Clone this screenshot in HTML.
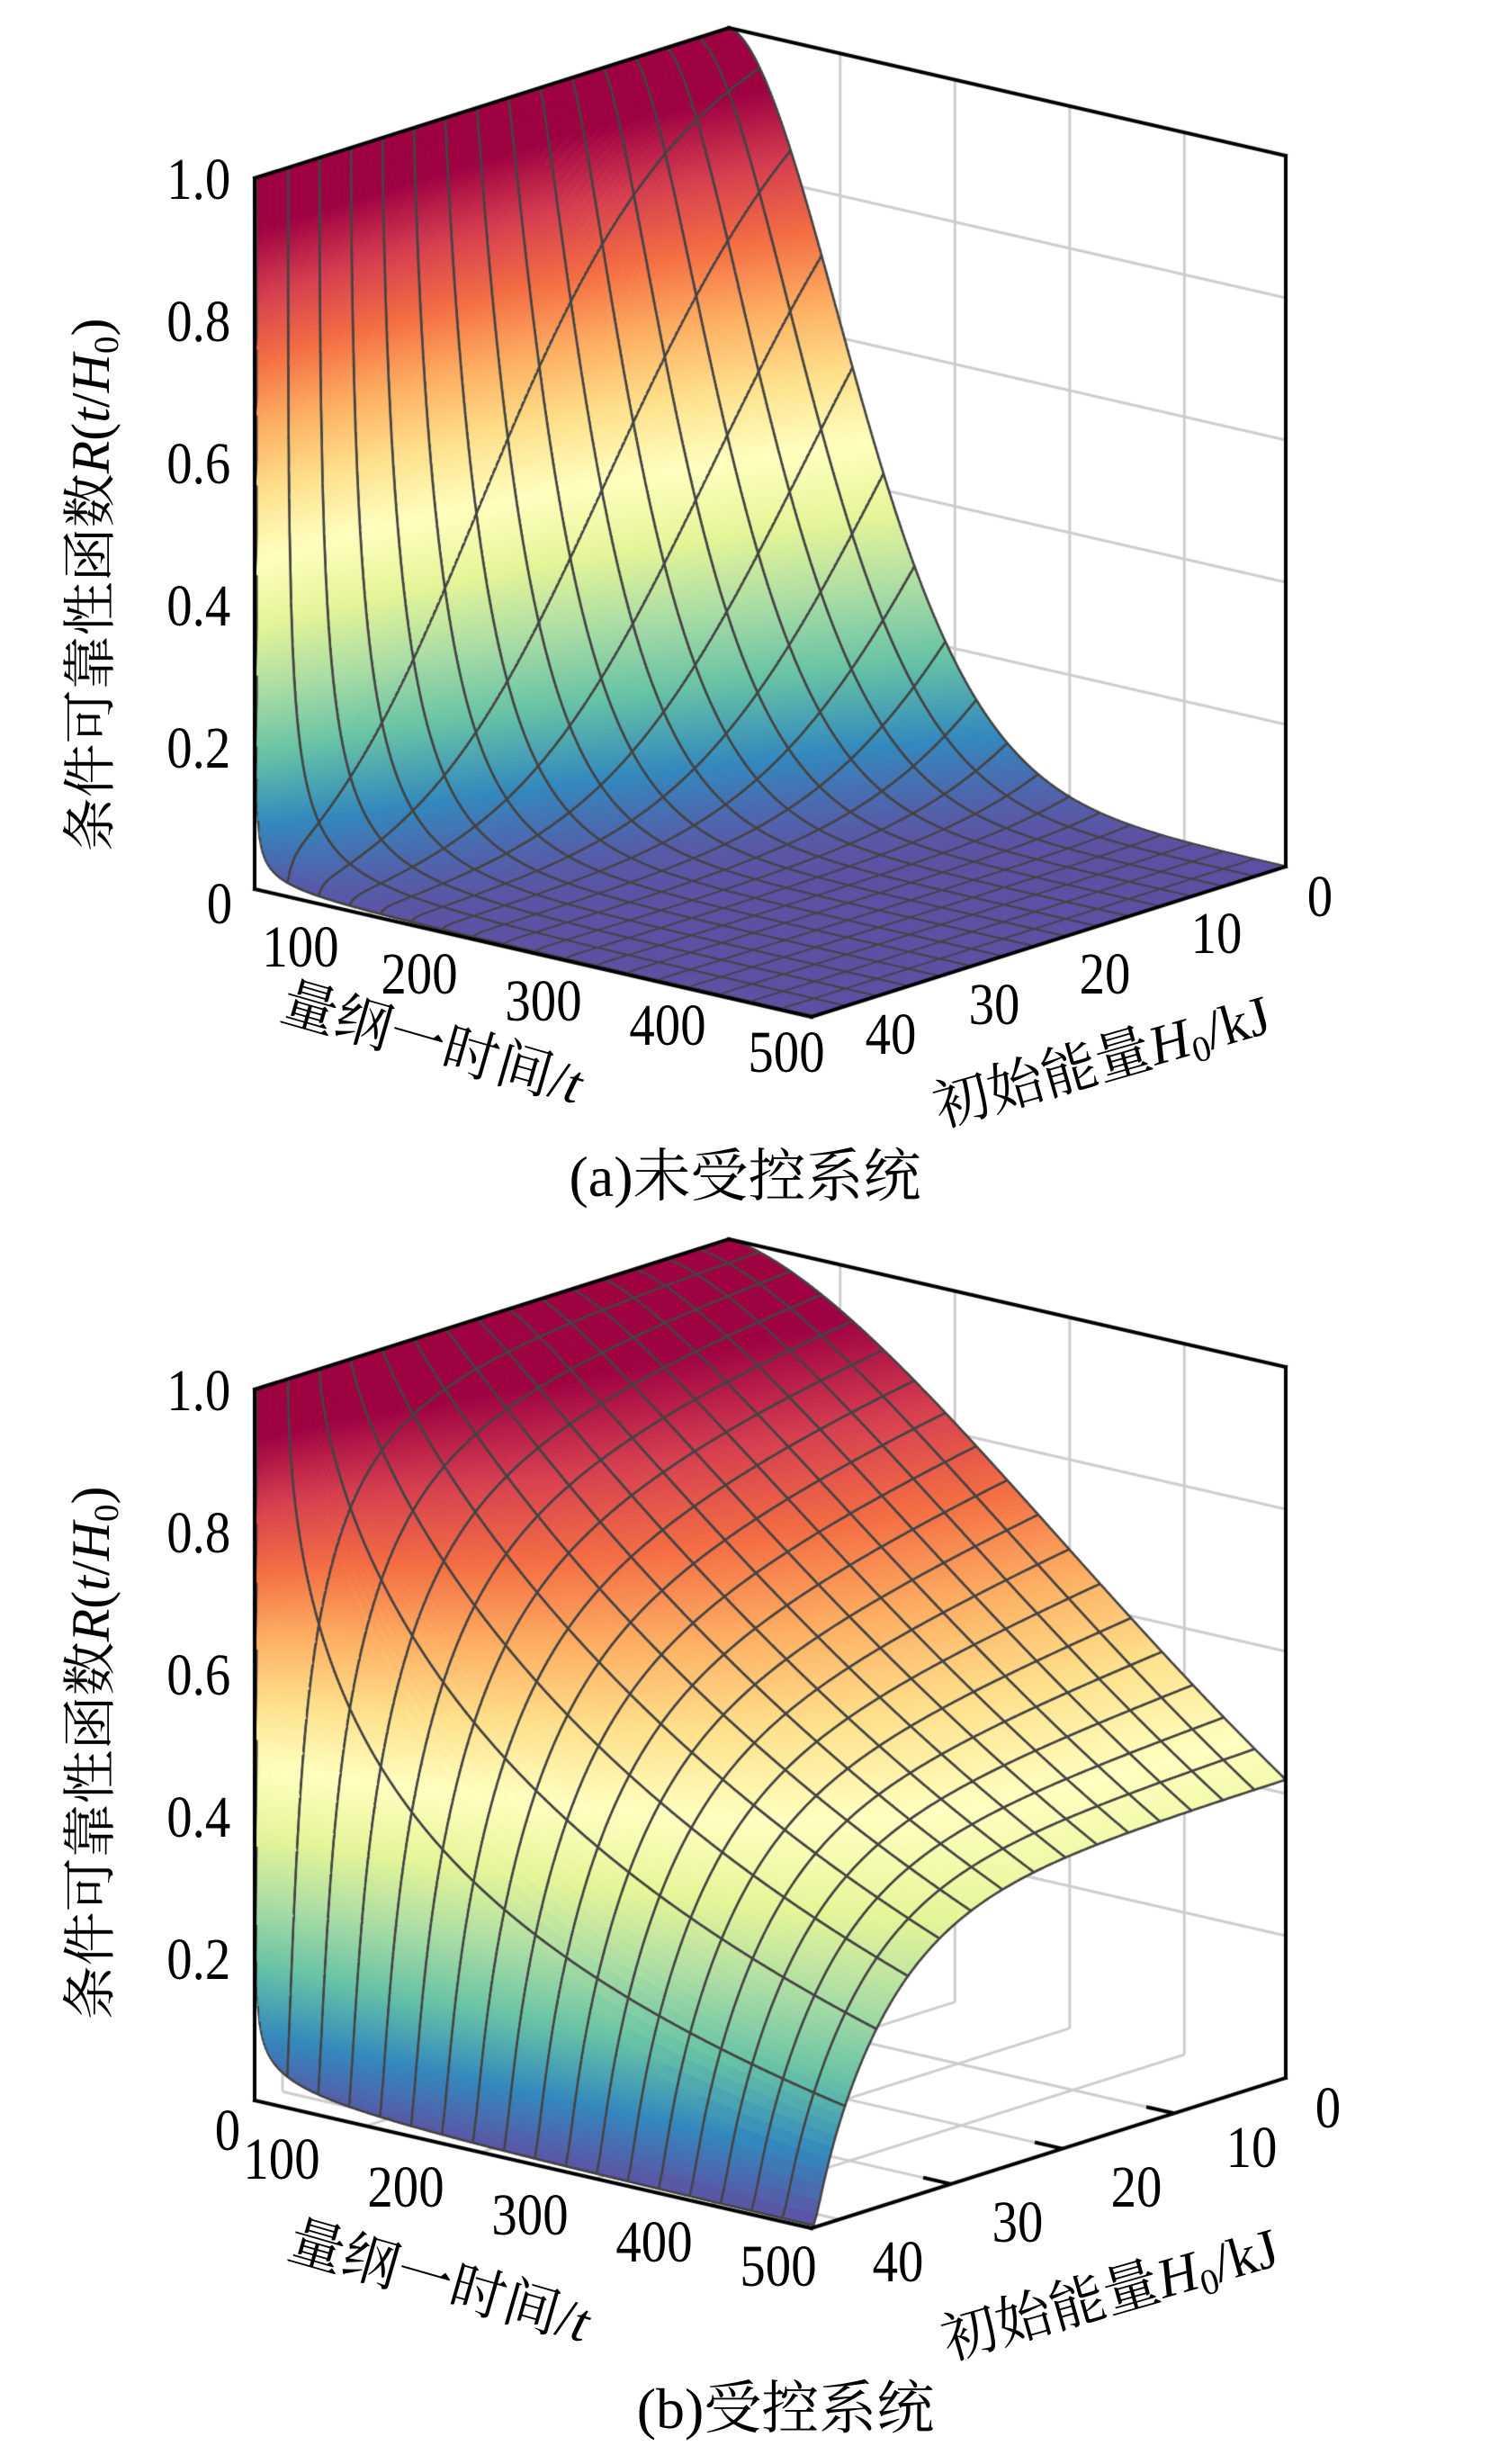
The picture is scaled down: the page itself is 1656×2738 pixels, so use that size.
<!DOCTYPE html>
<html><head><meta charset="utf-8">
<style>
html,body{margin:0;padding:0;background:#fff;}
#wrap{position:relative;width:1656px;height:2738px;overflow:hidden;background:#fff;}
canvas{position:absolute;left:0;top:0;}
.t{position:absolute;white-space:nowrap;line-height:1;font-family:"Liberation Serif","Noto Serif CJK SC",serif;color:#000;transform-origin:50% 50%;}
.n{font-size:66px;}
i{font-style:italic;}
sub{font-size:0.65em;vertical-align:-0.25em;line-height:0;}
</style></head><body>
<div id="wrap">
<canvas id="c" width="1656" height="2738"></canvas>

<!-- Panel a -->
<div class="t n" style="left:262px;top:200px;transform:translate(-100%,-50%) scaleX(0.86)">1.0</div>
<div class="t n" style="left:262px;top:358px;transform:translate(-100%,-50%) scaleX(0.86)">0.8</div>
<div class="t n" style="left:262px;top:516px;transform:translate(-100%,-50%) scaleX(0.86)">0.6</div>
<div class="t n" style="left:262px;top:674px;transform:translate(-100%,-50%) scaleX(0.86)">0.4</div>
<div class="t n" style="left:262px;top:832px;transform:translate(-100%,-50%) scaleX(0.86)">0.2</div>
<div class="t n" style="left:244px;top:1005px;transform:translate(-50%,-50%) scaleX(0.86)">0</div>
<div class="t n" style="left:334px;top:1053px;transform:translate(-50%,-50%) scaleX(0.86)">100</div>
<div class="t n" style="left:466px;top:1083px;transform:translate(-50%,-50%) scaleX(0.86)">200</div>
<div class="t n" style="left:604px;top:1113px;transform:translate(-50%,-50%) scaleX(0.86)">300</div>
<div class="t n" style="left:742px;top:1140px;transform:translate(-50%,-50%) scaleX(0.86)">400</div>
<div class="t n" style="left:874px;top:1170px;transform:translate(-50%,-50%) scaleX(0.86)">500</div>
<div class="t n" style="left:1467px;top:997px;transform:translate(-50%,-50%) scaleX(0.86)">0</div>
<div class="t n" style="left:1352px;top:1038px;transform:translate(-50%,-50%) scaleX(0.86)">10</div>
<div class="t n" style="left:1228px;top:1083px;transform:translate(-50%,-50%) scaleX(0.86)">20</div>
<div class="t n" style="left:1105px;top:1117px;transform:translate(-50%,-50%) scaleX(0.86)">30</div>
<div class="t n" style="left:990px;top:1150px;transform:translate(-50%,-50%) scaleX(0.86)">40</div>
<div class="t" style="font-size:62px;left:480px;top:1160px;transform:translate(-50%,-50%) rotate(16deg)">量纲一时间/<i>t</i></div>
<div class="t" style="font-size:62px;left:1225px;top:1180px;transform:translate(-50%,-50%) rotate(-16deg)">初始能量<i>H</i><sub>0</sub>/kJ</div>
<div class="t" style="font-size:60px;left:101px;top:650px;transform:translate(-50%,-50%) rotate(-90deg)">条件可靠性函数<i>R</i>(<i>t</i>/<i>H</i><sub>0</sub>)</div>
<div class="t" style="font-size:64px;left:828px;top:1308px;transform:translate(-50%,-50%)">(a)未受控系统</div>

<!-- Panel b -->
<div class="t n" style="left:262px;top:1546px;transform:translate(-100%,-50%) scaleX(0.86)">1.0</div>
<div class="t n" style="left:262px;top:1704px;transform:translate(-100%,-50%) scaleX(0.86)">0.8</div>
<div class="t n" style="left:262px;top:1862px;transform:translate(-100%,-50%) scaleX(0.86)">0.6</div>
<div class="t n" style="left:262px;top:2020px;transform:translate(-100%,-50%) scaleX(0.86)">0.4</div>
<div class="t n" style="left:262px;top:2178px;transform:translate(-100%,-50%) scaleX(0.86)">0.2</div>
<div class="t n" style="left:253px;top:2368px;transform:translate(-50%,-50%) scaleX(0.86)">0</div>
<div class="t n" style="left:313px;top:2400px;transform:translate(-50%,-50%) scaleX(0.86)">100</div>
<div class="t n" style="left:451px;top:2431px;transform:translate(-50%,-50%) scaleX(0.86)">200</div>
<div class="t n" style="left:589px;top:2462px;transform:translate(-50%,-50%) scaleX(0.86)">300</div>
<div class="t n" style="left:727px;top:2492px;transform:translate(-50%,-50%) scaleX(0.86)">400</div>
<div class="t n" style="left:865px;top:2519px;transform:translate(-50%,-50%) scaleX(0.86)">500</div>
<div class="t n" style="left:1476px;top:2343px;transform:translate(-50%,-50%) scaleX(0.86)">0</div>
<div class="t n" style="left:1391px;top:2387px;transform:translate(-50%,-50%) scaleX(0.86)">10</div>
<div class="t n" style="left:1263px;top:2431px;transform:translate(-50%,-50%) scaleX(0.86)">20</div>
<div class="t n" style="left:1131px;top:2470px;transform:translate(-50%,-50%) scaleX(0.86)">30</div>
<div class="t n" style="left:998px;top:2514px;transform:translate(-50%,-50%) scaleX(0.86)">40</div>
<div class="t" style="font-size:62px;left:488px;top:2536px;transform:translate(-50%,-50%) rotate(16deg)">量纲一时间/<i>t</i></div>
<div class="t" style="font-size:62px;left:1234px;top:2550px;transform:translate(-50%,-50%) rotate(-16deg)">初始能量<i>H</i><sub>0</sub>/kJ</div>
<div class="t" style="font-size:60px;left:101px;top:1948px;transform:translate(-50%,-50%) rotate(-90deg)">条件可靠性函数<i>R</i>(<i>t</i>/<i>H</i><sub>0</sub>)</div>
<div class="t" style="font-size:64px;left:873px;top:2677px;transform:translate(-50%,-50%)">(b)受控系统</div>
</div>

<script>
(function(){
var cv=document.getElementById('c'),ctx=cv.getContext('2d');
var STOPS=[[0,[94,79,162]],[0.1,[50,136,189]],[0.2,[102,194,165]],[0.3,[171,221,164]],[0.4,[230,245,152]],[0.5,[255,255,191]],[0.6,[254,224,139]],[0.7,[253,174,97]],[0.8,[244,109,67]],[0.9,[213,62,79]],[1,[158,1,66]]];
function col(z){
  var f=Math.min(1,Math.max(0,z*1.08));
  for(var k=0;k<STOPS.length-1;k++){
    if(f<=STOPS[k+1][0]){
      var a=STOPS[k],b=STOPS[k+1],t=(f-a[0])/(b[0]-a[0]);
      return 'rgb('+Math.round(a[1][0]+(b[1][0]-a[1][0])*t)+','+Math.round(a[1][1]+(b[1][1]-a[1][1])*t)+','+Math.round(a[1][2]+(b[1][2]-a[1][2])*t)+')';
    }
  }
  return 'rgb(158,1,66)';
}
function Pj(u,v,z,oy){return [283+619*u+527*v, oy+988+142*u-167*v-790*z];}
function line(a,b,c,w){ctx.strokeStyle=c;ctx.lineWidth=w;ctx.beginPath();ctx.moveTo(a[0],a[1]);ctx.lineTo(b[0],b[1]);ctx.stroke();}

function edge(R,u,v){
  var g=1-Math.exp(-v/0.012);
  return R*(g+(1-g)*Math.exp(-u/0.0004));
}
function Ra(u,v){
  var m=0.3+1.5*v, s=0.3*Math.pow(v,1.6)+0.002;
  return edge(Math.exp(-Math.pow(u/s,m)),u,v);
}
function Rb(u,v){
  var m=0.25+1.35*Math.pow(v,0.6);
  var T=0.42*(1-Math.exp(-v/0.15)); if(T<1e-6)T=1e-6;
  var s=Math.pow(-Math.log(T),-1/m);
  return edge(Math.exp(-Math.pow(u/s,m)),u,v);
}

function panel(oy,F,v0){
  ctx.lineCap='butt';
  var gray='#cdcdcd';
  var uk=[0.2,0.406,0.612,0.818];
  var vk=[1-10/42.5,1-20/42.5,1-30/42.5,1-40/42.5];
  var zk=[0.2,0.4,0.6,0.8];
  uk.forEach(function(u){line(Pj(u,1,0,oy),Pj(u,1,1,oy),gray,3);});
  zk.forEach(function(z){line(Pj(0,1,z,oy),Pj(1,1,z,oy),gray,3);});
  vk.forEach(function(v){line(Pj(0,v,0,oy),Pj(0,v,1,oy),gray,3);});
  zk.forEach(function(z){line(Pj(0,0,z,oy),Pj(0,1,z,oy),gray,3);});
  uk.forEach(function(u){line(Pj(u,0,0,oy),Pj(u,1,0,oy),gray,3);});
  vk.forEach(function(v){line(Pj(0,v,0,oy),Pj(1,v,0,oy),gray,3);});
  [0.2,0.4,0.6,0.8,1].forEach(function(z){line(Pj(0,0,z,oy),Pj(0,0.05,z,oy),'#000',4);});
  vk.slice(0,3).forEach(function(v){line(Pj(1,v,0,oy),Pj(0.95,v,0,oy),'#000',4);});

  var us=[0,0.00002,0.00005,0.0001,0.0002,0.0004,0.0007,0.001,0.0015,0.002],gu=[true,false,false,false,false,false,false,false,false,false];
  for(var k=1;k<=360;k++){us.push(k/360);gu.push(k%20===0);}
  var vs=[],gv=[],NV=150;
  for(var j=0;j<=NV;j++){vs.push(v0+(1-v0)*j/NV);gv.push(j%10===0);}
  var nu=us.length,nv=vs.length;
  var Z=[],X=[],Y=[];
  for(var i=0;i<nu;i++){Z.push([]);X.push([]);Y.push([]);
    for(var j=0;j<nv;j++){var z=F(us[i],vs[j]);var p=Pj(us[i],vs[j],z,oy);Z[i].push(z);X[i].push(p[0]);Y[i].push(p[1]);}}
  var q=[];
  for(var i=0;i<nu-1;i++)for(var j=0;j<nv-1;j++){q.push([(us[i]+us[i+1])/2-(vs[j]+vs[j+1])/2,i,j]);}
  q.sort(function(a,b){return a[0]-b[0];});
  ctx.lineJoin='round';
  for(var n=0;n<q.length;n++){
    var i=q[n][1],j=q[n][2];
    var cs=[[i,j],[i+1,j],[i+1,j+1],[i,j+1]];
    var zmin=1e9,zmax=-1e9,ytop=1e9,ybot=-1e9,ztop=0,zbot=0,zs=0;
    for(var c=0;c<4;c++){var a=cs[c][0],b=cs[c][1],z=Z[a][b],y=Y[a][b];zs+=z;
      if(z<zmin)zmin=z;if(z>zmax)zmax=z;
      if(y<ytop){ytop=y;ztop=z;} if(y>ybot){ybot=y;zbot=z;}}
    var style;
    if(zmax-zmin>0.02 && ybot-ytop>2){
      var g=ctx.createLinearGradient(0,ytop,0,ybot);
      for(var s=0;s<=6;s++){var t=s/6;g.addColorStop(t,col(ztop+(zbot-ztop)*t));}
      style=g;
    } else style=col(zs/4);
    ctx.beginPath();
    ctx.moveTo(X[i][j],Y[i][j]);ctx.lineTo(X[i+1][j],Y[i+1][j]);ctx.lineTo(X[i+1][j+1],Y[i+1][j+1]);ctx.lineTo(X[i][j+1],Y[i][j+1]);ctx.closePath();
    ctx.fillStyle=style;ctx.fill();
    ctx.strokeStyle=style;ctx.lineWidth=1;ctx.stroke();
    ctx.strokeStyle='#444';ctx.lineWidth=2.6;ctx.lineCap='round';
    ctx.beginPath();
    var any=false;
    if(gu[i]){ctx.moveTo(X[i][j],Y[i][j]);ctx.lineTo(X[i][j+1],Y[i][j+1]);any=true;}
    if(gu[i+1]){ctx.moveTo(X[i+1][j],Y[i+1][j]);ctx.lineTo(X[i+1][j+1],Y[i+1][j+1]);any=true;}
    if(gv[j]){ctx.moveTo(X[i][j],Y[i][j]);ctx.lineTo(X[i+1][j],Y[i+1][j]);any=true;}
    if(gv[j+1]){ctx.moveTo(X[i][j+1],Y[i][j+1]);ctx.lineTo(X[i+1][j+1],Y[i+1][j+1]);any=true;}
    if(any)ctx.stroke();
    ctx.lineCap='butt';
  }
  var k2='#000',w=4;
  ctx.lineCap='square';
  line(Pj(0,0,0,oy),Pj(0,0,1,oy),k2,w);
  line(Pj(0,0,0,oy),Pj(1,0,0,oy),k2,w);
  line(Pj(1,0,0,oy),Pj(1,1,0,oy),k2,w);
  line(Pj(1,1,0,oy),Pj(1,1,1,oy),k2,w);
  line(Pj(1,1,1,oy),Pj(0,1,1,oy),k2,w);
  line(Pj(0,1,1,oy),Pj(0,0,1,oy),k2,w);
}
panel(0,Ra,0.004);
panel(1346,Rb,0.004);
})();
</script>
</body></html>
